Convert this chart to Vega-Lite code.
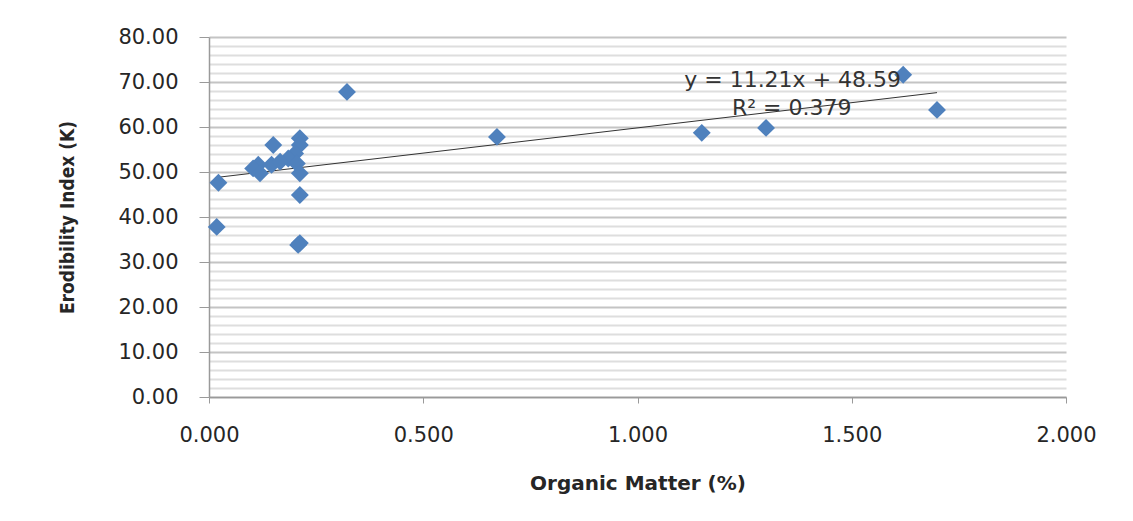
{
  "$schema": "https://vega.github.io/schema/vega-lite/v6.json",
  "autosize": "none",
  "width": 857,
  "height": 360,
  "padding": {"left": 209, "top": 37, "right": 67, "bottom": 124},
  "background": "white",
  "config": {
    "view": {"stroke": null},
    "font": "DejaVu Sans"
  },
  "datasets": {
    "points": [
      {"om": 0.022, "k": 47.6},
      {"om": 0.018, "k": 37.8},
      {"om": 0.322, "k": 67.8},
      {"om": 0.672, "k": 57.8},
      {"om": 1.150, "k": 58.7},
      {"om": 1.300, "k": 59.8},
      {"om": 1.620, "k": 71.6},
      {"om": 1.699, "k": 63.8},
      {"om": 0.150, "k": 56.0},
      {"om": 0.212, "k": 57.5},
      {"om": 0.212, "k": 56.0},
      {"om": 0.201, "k": 54.1},
      {"om": 0.185, "k": 53.0},
      {"om": 0.115, "k": 51.6},
      {"om": 0.103, "k": 50.8},
      {"om": 0.119, "k": 49.7},
      {"om": 0.146, "k": 51.6},
      {"om": 0.166, "k": 52.3},
      {"om": 0.205, "k": 51.9},
      {"om": 0.212, "k": 49.7},
      {"om": 0.212, "k": 44.9},
      {"om": 0.212, "k": 34.2},
      {"om": 0.208, "k": 33.8}
    ],
    "trend": [
      {"om": 0.014, "k": 48.75},
      {"om": 1.699, "k": 67.64}
    ],
    "labels": [
      {"om": 1.362, "k": 70.4, "text": "y = 11.21x + 48.59"},
      {"om": 1.360, "k": 64.2, "text": "R² = 0.379"}
    ]
  },
  "layer": [
    {
      "data": {"name": "trend"},
      "mark": {"type": "line", "color": "#333333", "strokeWidth": 1},
      "encoding": {
        "x": {
          "field": "om", "type": "quantitative",
          "scale": {"domain": [0, 2], "nice": false, "zero": false},
          "axis": {
            "values": [0, 0.5, 1, 1.5, 2],
            "format": ".3f",
            "grid": false,
            "labelFlush": false,
            "labelOverlap": false,
            "domainColor": "#9a9a9a",
            "domainWidth": 1.5,
            "tickColor": "#9a9a9a",
            "tickSize": 6,
            "labelFontSize": 21,
            "labelColor": "#262626",
            "labelFont": "DejaVu Sans",
            "labelPadding": 21,
            "title": "Organic Matter (%)",
            "titleFont": "DejaVu Sans",
            "titleFontSize": 20,
            "titleFontWeight": "bold",
            "titleColor": "#262626",
            "titlePadding": 28
          }
        },
        "y": {
          "field": "k", "type": "quantitative",
          "scale": {"domain": [0, 80], "nice": false},
          "axis": {
            "values": [0,2,4,6,8,10,12,14,16,18,20,22,24,26,28,30,32,34,36,38,40,42,44,46,48,50,52,54,56,58,60,62,64,66,68,70,72,74,76,78,80],
            "tickCount": 100,
            "labelExpr": "datum.value % 10 === 0 ? format(datum.value, '.2f') : ''",
            "labelOverlap": false,
            "labelFlush": false,
            "labelBound": false,
            "grid": true,
            "gridColor": {"condition": {"test": "datum.value % 10 === 0", "value": "#c4c4c4"}, "value": "#dedede"},
            "gridWidth": 2,
            "domainColor": "#9a9a9a",
            "domainWidth": 1.5,
            "tickColor": "#9a9a9a",
            "tickOpacity": {"condition": {"test": "datum.value % 10 === 0", "value": 1}, "value": 0},
            "tickSize": 10,
            "labelFontSize": 21,
            "labelColor": "#262626",
            "labelFont": "DejaVu Sans",
            "labelPadding": 21,
            "title": "Erodibility Index (K)",
            "titleFont": "DejaVu Sans Condensed",
            "titleFontSize": 19,
            "titleFontWeight": "bold",
            "titleColor": "#262626",
            "titlePadding": 40
          }
        }
      }
    },
    {
      "data": {"name": "points"},
      "mark": {"type": "point", "shape": "diamond", "filled": true, "size": 320, "color": "#4F81BD", "opacity": 1},
      "encoding": {
        "x": {"field": "om", "type": "quantitative"},
        "y": {"field": "k", "type": "quantitative"}
      }
    },
    {
      "data": {"name": "labels"},
      "mark": {"type": "text", "fontSize": 22, "font": "DejaVu Sans", "color": "#333333", "align": "center", "baseline": "middle"},
      "encoding": {
        "x": {"field": "om", "type": "quantitative"},
        "y": {"field": "k", "type": "quantitative"},
        "text": {"field": "text"}
      }
    }
  ]
}
